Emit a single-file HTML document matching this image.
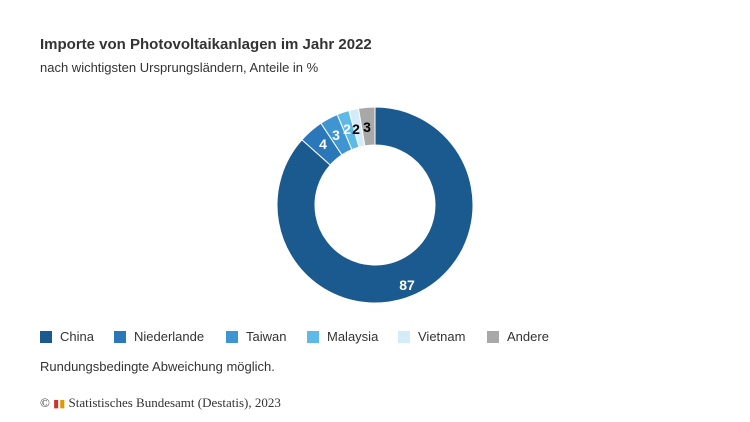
<!DOCTYPE html>
<html><head><meta charset="utf-8"><style>
body{margin:0;width:750px;height:422px;background:#fff;font-family:"Liberation Sans",sans-serif;position:relative;overflow:hidden;color:#333}
.t{position:absolute;left:40px;top:36px;font-size:15px;font-weight:bold;color:#333}
.s{position:absolute;left:40px;top:60px;font-size:13px;color:#333}
.lg{position:absolute;top:329px;font-size:13px;color:#333;display:flex;align-items:center}
.lg i{display:inline-block;width:12px;height:12px;margin-right:8px}
.n{position:absolute;left:40px;top:359px;font-size:13px}
.c{position:absolute;left:40px;top:395px;font-size:13px;font-family:"Liberation Serif",serif}
</style></head><body>
<div class="t">Importe von Photovoltaikanlagen im Jahr 2022</div>
<div class="s">nach wichtigsten Ursprungsländern, Anteile in %</div>
<svg id="sv" width="750" height="422" style="position:absolute;left:0;top:0"></svg>
<div class="lg" style="left:40px"><i style="background:#1b5a8e"></i>China</div>
<div class="lg" style="left:114px"><i style="background:#2a78b9"></i>Niederlande</div>
<div class="lg" style="left:226px"><i style="background:#3f95d1"></i>Taiwan</div>
<div class="lg" style="left:307px"><i style="background:#5fb9e6"></i>Malaysia</div>
<div class="lg" style="left:398px"><i style="background:#d3ecf7"></i>Vietnam</div>
<div class="lg" style="left:487px"><i style="background:#a8a8a8"></i>Andere</div>
<div class="n">Rundungsbedingte Abweichung möglich.</div>
<div class="c">© <span style="color:#c33;font-size:11px">▮</span><span style="color:#d90;font-size:11px">▮</span> Statistisches Bundesamt (Destatis), 2023</div>
<script>
var d=[[86.6,"#1b5a8e"],[4.1,"#2a78b9"],[3,"#3f95d1"],[2,"#5fb9e6"],[1.6,"#d3ecf7"],[2.7,"#a8a8a8"]];
var cx=375,cy=205,R=98,r=60,a=0,s="";
function p(rad,ang){return [cx+rad*Math.sin(ang),cy-rad*Math.cos(ang)];}
d.forEach(function(e){var a0=a/100*2*Math.PI;a+=e[0];var a1=a/100*2*Math.PI;var l=(a1-a0)>Math.PI?1:0;
var A=p(R,a0),B=p(R,a1),C=p(r,a1),D=p(r,a0);
s+='<path d="M'+A+' A'+R+','+R+' 0 '+l+' 1 '+B+' L'+C+' A'+r+','+r+' 0 '+l+' 0 '+D+' Z" fill="'+e[1]+'" stroke="#fff" stroke-width="1"/>';});
var L=[["87",407,290,"#fff"],["4",323,149,"#fff"],["3",336,140,"#fff"],["2",347,134,"#fff"],["2",356,134,"#000"],["3",367,132,"#000"]];
L.forEach(function(t){s+='<text x="'+t[1]+'" y="'+t[2]+'" fill="'+t[3]+'" font-family="Liberation Sans" font-weight="bold" font-size="14" text-anchor="middle">'+t[0]+'</text>';});
document.getElementById("sv").innerHTML=s;
</script>
</body></html>
